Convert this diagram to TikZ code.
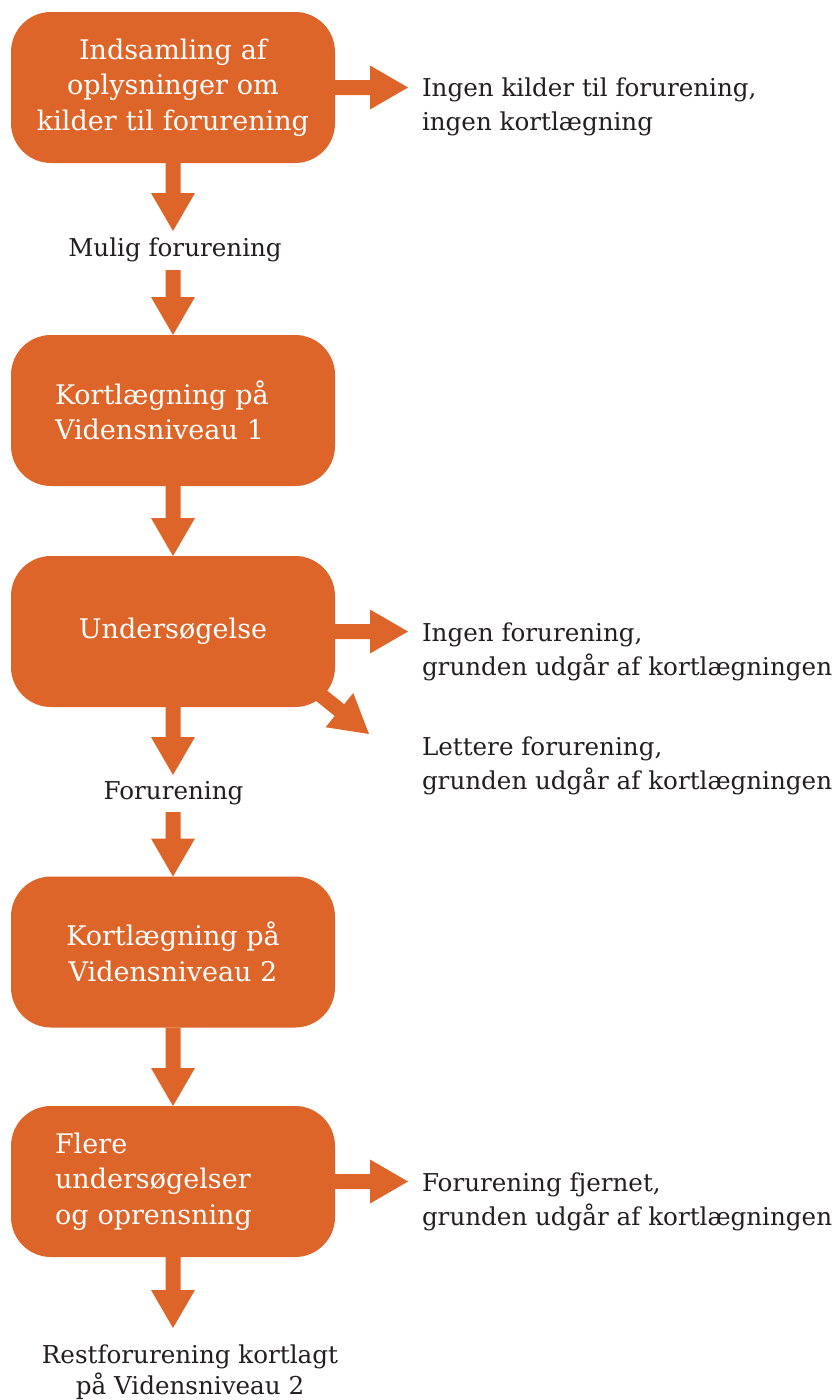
\documentclass[tikz,border=0pt]{standalone}
\usepackage{fontspec}
\setmainfont{DejaVu Serif}
\usetikzlibrary{calc}
\definecolor{orng}{HTML}{DE6529}
\definecolor{ink}{HTML}{231F20}
\newcommand\blockarrow[2]{%
  \coordinate (bah) at ($(#2)!38pt!(#1)$);
  \fill[orng] ($(#1)!7.5pt!90:(#2)$) -- ($(bah)!7.5pt!90:(#2)$) -- ($(bah)!22pt!90:(#2)$) -- (#2)
    -- ($(bah)!22pt!-90:(#2)$) -- ($(bah)!7.5pt!-90:(#2)$) -- ($(#1)!7.5pt!-90:(#2)$) -- cycle;}
\begin{document}
\begin{tikzpicture}[x=1pt,y=-1pt,
  box/.style={fill=orng, rounded corners=40pt, minimum width=324pt, minimum height=151pt,
    inner sep=0pt, outer sep=0pt, text=white, font=\fontsize{27}{35.5}\selectfont},
  lbl/.style={text=ink, inner sep=0pt, outer sep=0pt, font=\fontsize{24.6}{34}\selectfont}]
\fill[white] (0,0) rectangle (839,1400);
\useasboundingbox (0,0) rectangle (839,1400);

\node[box, text width=310pt, align=center] (b1) at (173,87.5) {Indsamling af\\oplysninger om\\kilder til forurening};
\node[box, text width=236pt, align=left] (b2) at (173,410.5) {Kortlægning på\\Vidensniveau 1};
\node[box, align=center] (b3) at (173,631.5) {Undersøgelse};
\node[box, align=center] (b4) at (173,952) {Kortlægning på\\Vidensniveau 2};
\node[box, text width=236pt, align=left] (b5) at (173,1181.5) {Flere\\undersøgelser\\og oprensning};

\node[lbl, anchor=base] (m1) at (175,256) {Mulig forurening};
\node[lbl, anchor=base] (m2) at (173.5,799) {Forurening};
\node[lbl, anchor=north, align=center, font=\fontsize{24.6}{31}\selectfont] (m3) at (190,1344.5) {Restforurening kortlagt\\på Vidensniveau 2};
\node[lbl, anchor=north west, align=left] (r1) at (422,78.3) {Ingen kilder til forurening,\\ingen kortlægning};
\node[lbl, anchor=north west, align=left] (r2) at (422,623.3) {Ingen forurening,\\grunden udgår af kortlægningen};
\node[lbl, anchor=north west, align=left] (r3) at (422,736.3) {Lettere forurening,\\grunden udgår af kortlægningen};
\node[lbl, anchor=north west, align=left] (r4) at (422,1172.3) {Forurening fjernet,\\grunden udgår af kortlægningen};

\coordinate (t1) at (173,231);
\coordinate (s2) at (173,270);
\coordinate (t4) at (173,775);
\coordinate (s5) at (173,812);
\coordinate (t7) at (173,1328);
\coordinate (e1) at (408,87.5);
\coordinate (e3) at (408,631.5);
\coordinate (e5) at (408,1181.5);
\coordinate (d3) at (369,734);
\coordinate (d3s) at ($(b3.south east)+(-18,-15)$);

\blockarrow{b1.south}{t1}
\blockarrow{s2}{b2.north}
\blockarrow{b2.south}{b3.north}
\blockarrow{b3.south}{t4}
\blockarrow{s5}{b4.north}
\blockarrow{b4.south}{b5.north}
\blockarrow{b5.south}{t7}
\blockarrow{b1.east}{e1}
\blockarrow{b3.east}{e3}
\blockarrow{b5.east}{e5}
\blockarrow{d3s}{d3}
\end{tikzpicture}
\end{document}
